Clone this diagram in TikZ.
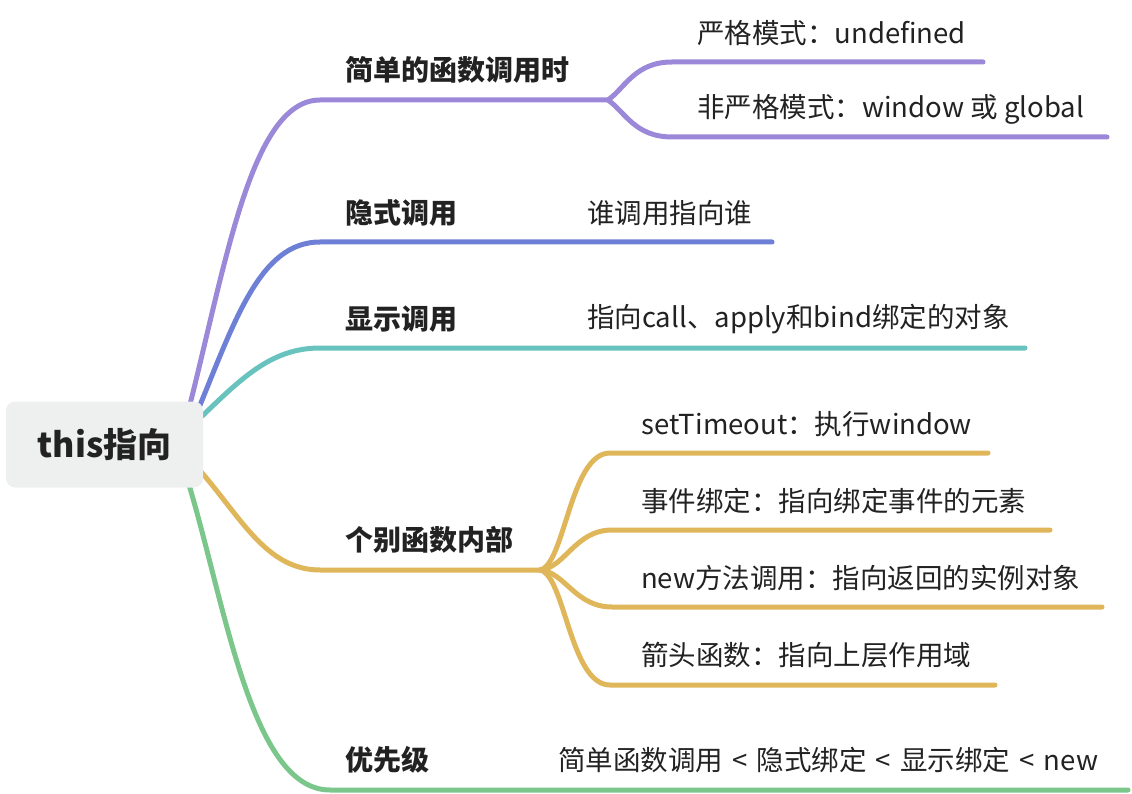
\documentclass[tikz,border=0pt]{standalone}
\usepackage{fontspec}
\setmainfont{Noto Sans CJK SC}
\definecolor{cpurple}{HTML}{9C88D9}
\definecolor{cblue}{HTML}{6E80D6}
\definecolor{cteal}{HTML}{68C3BE}
\definecolor{cyellow}{HTML}{DFB65A}
\definecolor{cgreen}{HTML}{7BC68B}
\definecolor{rootfill}{HTML}{EEF0EF}
\definecolor{txt}{HTML}{222222}
\begin{document}
\begin{tikzpicture}[x=1pt,y=-1pt,
  br/.style={line width=5pt,line cap=round},
  lbl/.style={anchor=west,inner sep=0pt,text=txt,font=\fontsize{27.5}{30}\selectfont},
  blbl/.style={anchor=west,inner sep=0pt,text=txt,font=\fontsize{28}{30}\selectfont\bfseries},
  rootbox/.style={fill=rootfill,rounded corners=9pt,minimum width=197pt,minimum height=86pt,inner sep=0pt,text=txt,font=\fontsize{34}{40}\selectfont\bfseries}
]
\useasboundingbox (0,0) rectangle (1132,794);

% coordinates
\coordinate (s1) at (186,420);
\coordinate (s2) at (196,415);
\coordinate (s3) at (198,420);
\coordinate (s4) at (196,466);
\coordinate (s5) at (186,475);
\coordinate (j1) at (608,100);
\coordinate (j4) at (540,570);
\coordinate (e11) at (983,62);
\coordinate (e12) at (1107,137);
\coordinate (e2) at (772,242);
\coordinate (e3) at (1025,348);
\coordinate (e41) at (988,453);
\coordinate (e42) at (1050,530);
\coordinate (e43) at (1102,607);
\coordinate (e44) at (995,685);
\coordinate (e5) at (1128,790);

% branches
\draw[br,cpurple] (s1) .. controls (225,270) and (250,100) .. (320,100) -- (j1);
\draw[br,cpurple] (j1) .. controls (625,88) and (635,62) .. (672,62) -- (e11);
\draw[br,cpurple] (j1) .. controls (625,112) and (635,137) .. (672,137) -- (e12);
\draw[br,cblue] (s2) .. controls (235,320) and (260,242) .. (320,242) -- (e2);
\draw[br,cteal] (s3) .. controls (240,380) and (270,348) .. (320,348) -- (e3);
\draw[br,cyellow] (s4) .. controls (240,515) and (265,570) .. (320,570) -- (j4);
\draw[br,cyellow] (j4) .. controls (565,565) and (570,453) .. (610,453) -- (e41);
\draw[br,cyellow] (j4) .. controls (565,568) and (575,530) .. (612,530) -- (e42);
\draw[br,cyellow] (j4) .. controls (565,572) and (575,607) .. (612,607) -- (e43);
\draw[br,cyellow] (j4) .. controls (565,575) and (570,685) .. (610,685) -- (e44);
\draw[br,cgreen] (s5) .. controls (225,600) and (250,790) .. (330,790) -- (e5);

% root
\node[rootbox] (root) at (104.5,444.5) {this指向};

% labels
\node[blbl] (n1) at (345,70) {简单的函数调用时};
\node[lbl] (n11) at (697,33) {严格模式：undefined};
\node[lbl] (n12) at (697,109) {非严格模式：window 或 global};
\node[blbl] (n2) at (345,213) {隐式调用};
\node[lbl] (n21) at (587,213) {谁调用指向谁};
\node[blbl] (n3) at (345,319) {显示调用};
\node[lbl] (n31) at (587,319) {指向call、apply和bind绑定的对象};
\node[blbl] (n4) at (345,540) {个别函数内部};
\node[lbl] (n41) at (641,424) {setTimeout：执行window};
\node[lbl] (n42) at (641,501) {事件绑定：指向绑定事件的元素};
\node[lbl] (n43) at (641,578) {new方法调用：指向返回的实例对象};
\node[lbl] (n44) at (641,655) {箭头函数：指向上层作用域};
\node[blbl] (n5) at (345,760) {优先级};
\node[lbl] (n51) at (558,760) {简单函数调用\,\,<\,\,隐式绑定\,\,<\,\,显示绑定\,\,<\,\,new};
\end{tikzpicture}
\end{document}
